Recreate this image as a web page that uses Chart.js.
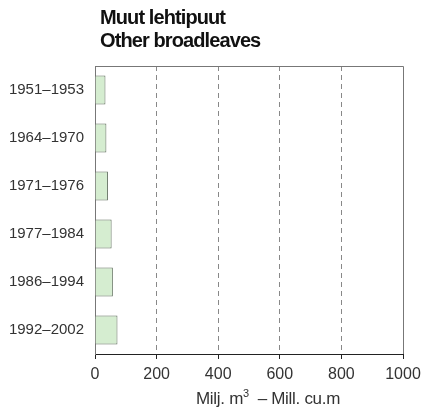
<!DOCTYPE html>
<html>
<head>
<meta charset="utf-8">
<script src="https://cdn.jsdelivr.net/npm/chart.js@4"></script>
<style>
  html, body { margin: 0; padding: 0; background: #fff; }
  #wrap { position: relative; width: 432px; height: 416px; }
  #chart { position: absolute; left: 0; top: 0; }
  .title { position: absolute; left: 100px; top: 6px; font: bold 20px "Liberation Sans", Arial, sans-serif; letter-spacing: -0.9px; line-height: 23px; color: #111; }
  .unit { position: absolute; left: 196px; top: 387px; font: 17px "Liberation Sans", Arial, sans-serif; letter-spacing: -0.3px; color: #333; white-space: nowrap; }
  .unit sup { font-size: 11px; }
</style>
</head>
<body>
<div id="wrap">
  <canvas id="chart" width="432" height="416"></canvas>
  <div class="title">Muut lehtipuut<br>Other broadleaves</div>
  <div class="unit">Milj. m<sup>3</sup> &nbsp;– Mill. cu.m</div>
</div>
<script>
const periods = ["1951–1953", "1964–1970", "1971–1976", "1977–1984", "1986–1994", "1992–2002"];
const volumes = [34, 37, 42, 54, 58, 73];
const xTicks = [0, 200, 400, 600, 800, 1000];

const FONT = "'Liberation Sans', Arial, sans-serif";

// draws the frame on top and right of the plot
const frame = {
  id: "frame",
  afterDatasetsDraw(chart) {
    const { ctx, chartArea: a } = chart;
    ctx.save();
    ctx.strokeStyle = "#777";
    ctx.lineWidth = 1;
    ctx.beginPath();
    ctx.moveTo(a.left, a.top + 0.5);
    ctx.lineTo(a.right + 0.5, a.top + 0.5);
    ctx.lineTo(a.right + 0.5, a.bottom);
    ctx.stroke();
    ctx.restore();
  },
};

new Chart(document.getElementById("chart"), {
  type: "bar",
  data: {
    labels: periods,
    datasets: [{
      data: volumes,
      backgroundColor: "#d5edd0",
      borderColor: "#5f6e5c",
      borderWidth: 1,
      barPercentage: 0.6,
      categoryPercentage: 1,
    }],
  },
  options: {
    indexAxis: "y",
    responsive: false,
    animation: false,
    layout: { padding: { top: 66, right: 29, left: 0, bottom: 0 } },
    plugins: { legend: { display: false }, tooltip: { enabled: false } },
    scales: {
      x: {
        min: 0, max: 1000,
        afterBuildTicks: (s) => { s.ticks = xTicks.map((v) => ({ value: v })); },
        afterFit: (s) => { s.height = 416 - 354; },
        border: { color: "#222", width: 1, dash: [5, 4] },
        grid: {
          color: (c) => (c.tick && (c.tick.value === 0 || c.tick.value === 1000) ? "rgba(0,0,0,0)" : "#888"),
          tickColor: "#222",
          tickLength: 5,
          tickBorderDash: [],
        },
        ticks: { color: "#333", font: { family: FONT, size: 16 }, padding: 6, maxRotation: 0, callback: (v) => String(v) },
      },
      y: {
        afterFit: (s) => { s.width = 95; },
        border: { color: "#777", width: 1 },
        grid: { display: false },
        ticks: { color: "#333", font: { family: FONT, size: 15 }, padding: 3 },
      },
    },
  },
  plugins: [frame],
});
</script>
</body>
</html>
